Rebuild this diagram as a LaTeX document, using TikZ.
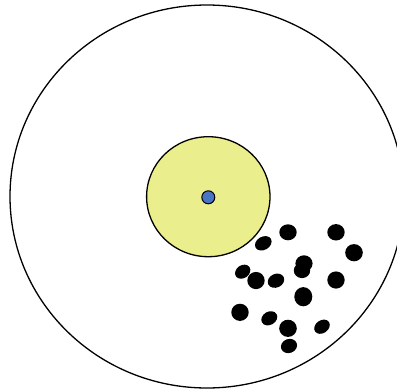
\documentclass[tikz,border=0pt]{standalone}
\definecolor{ylw}{HTML}{EAEE8C}
\definecolor{blu}{HTML}{4A74C4}
\tikzset{
  dot/.style={fill=black},
  ring/.style={draw=black, line width=1.3pt}
}
\begin{document}
\begin{tikzpicture}[x=1pt,y=-1pt]
\useasboundingbox (0,0) rectangle (397,389);
\fill[white] (0,0) rectangle (397,389);
\draw[ring] (207,196.5) ellipse [x radius=197, y radius=191.5];
\draw[ring, fill=ylw] (208.3,196.7) ellipse [x radius=61.7, y radius=60];
\draw[black, line width=1pt, fill=blu] (208.3,197.3) circle [radius=6.5];
% dots
\fill[dot] (288,232.3) ellipse [x radius=8.7, y radius=8];
\fill[dot] (336,232.3) ellipse [x radius=8.7, y radius=8.2];
\fill[dot, rotate around={30:(263.3,243.3)}] (263.3,243.3) ellipse [x radius=8.8, y radius=6.6];
\fill[dot] (354,252.7) ellipse [x radius=8.8, y radius=8.6];
\fill[dot] (304,263.5) ellipse [x radius=8.6, y radius=8.2];
\fill[dot] (302,270.5) ellipse [x radius=8.2, y radius=7.6];
\fill[dot, rotate around={35:(242.7,271.7)}] (242.7,271.7) ellipse [x radius=8.2, y radius=6.4];
\fill[dot] (256,280.5) ellipse [x radius=8.7, y radius=8.6];
\fill[dot, rotate around={25:(276,280.7)}] (276,280.7) ellipse [x radius=8.5, y radius=6.8];
\fill[dot] (336,280) ellipse [x radius=8.7, y radius=8.6];
\fill[dot] (303.3,296.7) ellipse [x radius=9, y radius=9.6];
\fill[dot] (240,312.3) ellipse [x radius=8.7, y radius=8.6];
\fill[dot, rotate around={30:(269.3,318.3)}] (269.3,318.3) ellipse [x radius=8.4, y radius=6.6];
\fill[dot] (288,328.3) ellipse [x radius=8.8, y radius=8.6];
\fill[dot, rotate around={35:(322,326.7)}] (322,326.7) ellipse [x radius=8.4, y radius=6.4];
\fill[dot, rotate around={20:(289,346)}] (289,346) ellipse [x radius=8.2, y radius=7];
\end{tikzpicture}
\end{document}
